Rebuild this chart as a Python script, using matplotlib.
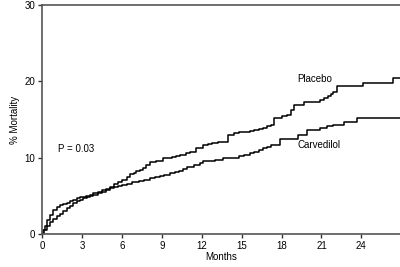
import matplotlib
matplotlib.use("Agg")

import matplotlib.pyplot as plt

# ------------------------------------------------------------
# DATA
# ------------------------------------------------------------
placebo_months = [0, 0.15, 0.35, 0.6, 0.85, 1.1, 1.35, 1.6, 1.86, 2.1, 2.36, 2.6,
                  2.86, 3.1, 3.4, 3.6, 3.86, 4.2, 4.5, 4.8, 5.1, 5.4, 5.7, 6.0,
                  6.37, 6.6, 6.9, 7.1, 7.37, 7.6, 7.8, 8.1, 8.6, 9.1, 9.4, 9.8,
                  10.1, 10.4, 10.8, 11.1, 11.6, 12.1, 12.5, 12.8, 13.2, 13.6, 14.0,
                  14.4, 14.8, 15.2, 15.6, 15.9, 16.3, 16.6, 16.9, 17.2, 17.4, 18.0,
                  18.4, 18.7, 18.9, 19.7, 20.9, 21.2, 21.5, 21.7, 21.9, 22.2, 24.1,
                  26.4, 27.0]
placebo_pct = [0, 0.5, 1.0, 1.5, 2.0, 2.3, 2.6, 3.0, 3.4, 3.7, 4.0, 4.3,
               4.5, 4.7, 4.9, 5.1, 5.3, 5.5, 5.7, 5.9, 6.2, 6.5, 6.8, 7.1,
               7.5, 7.8, 8.0, 8.2, 8.4, 8.7, 9.0, 9.4, 9.6, 9.9, 10.0, 10.1,
               10.2, 10.35, 10.6, 10.8, 11.2, 11.7, 11.8, 11.9, 12.0, 12.1, 13.0,
               13.2, 13.3, 13.4, 13.5, 13.6, 13.7, 13.9, 14.1, 14.3, 15.2, 15.4,
               15.6, 16.3, 16.9, 17.3, 17.6, 17.8, 18.1, 18.4, 18.65, 19.4, 19.75,
               20.4, 20.4]

carvedilol_months = [0, 0.1, 0.2, 0.35, 0.6, 0.85, 1.1, 1.35, 1.6, 1.9, 2.1, 2.36,
                     2.6, 2.86, 3.3, 3.86, 4.2, 4.5, 4.8, 5.1, 5.4, 5.7, 6.0, 6.4,
                     6.8, 7.3, 7.7, 8.1, 8.5, 8.9, 9.2, 9.6, 10.0, 10.3, 10.6, 10.9,
                     11.4, 11.9, 12.1, 12.5, 13.0, 13.6, 14.4, 14.8, 15.2, 15.6, 15.9,
                     16.3, 16.6, 16.9, 17.2, 17.9, 19.2, 19.9, 20.9, 21.4, 21.9, 22.7,
                     23.7, 27.0]
carvedilol_pct = [0, 0.5, 1.0, 1.8, 2.5, 3.1, 3.5, 3.8, 3.95, 4.1, 4.3, 4.46,
                  4.7, 4.9, 5.0, 5.1, 5.3, 5.5, 5.8, 6.0, 6.15, 6.3, 6.45, 6.6,
                  6.75, 6.95, 7.1, 7.3, 7.45, 7.6, 7.75, 7.95, 8.1, 8.3, 8.5, 8.8,
                  9.0, 9.3, 9.5, 9.6, 9.7, 9.9, 9.95, 10.2, 10.4, 10.6, 10.8,
                  11.0, 11.2, 11.4, 11.7, 12.5, 13.0, 13.6, 13.85, 14.1, 14.3, 14.7,
                  15.2, 15.2]

x_ticks = [0, 3, 6, 9, 12, 15, 18, 21, 24]
y_ticks = [0, 10, 20, 30]

# ------------------------------------------------------------
# PLOT
# ------------------------------------------------------------
plt.rcParams['font.family'] = ['Liberation Sans', 'DejaVu Sans']

fig = plt.figure(figsize=(4, 2.67), dpi=100)
ax = fig.add_axes([0.105, 0.124, 0.895, 0.857])

ax.plot(placebo_months, placebo_pct, drawstyle="steps-post", color="black", lw=1.1)
ax.plot(carvedilol_months, carvedilol_pct, drawstyle="steps-post", color="black", lw=1.1)

ax.set_xlim(0, 26.9)
ax.set_ylim(0, 30)
ax.set_xticks(x_ticks)
ax.set_yticks(y_ticks)
ax.tick_params(direction="out", length=3, width=1, labelsize=7, pad=2,
               color="#333333")

for side in ["left", "bottom", "top"]:
    ax.spines[side].set_color("#555555")
    ax.spines[side].set_linewidth(1.2)
ax.spines["right"].set_visible(False)

ax.set_xlabel("Months", fontsize=7, labelpad=1)
ax.set_ylabel("% Mortality", fontsize=7, labelpad=3)

ax.text(20.5, 20.3, "Placebo", fontsize=7, ha="center", va="center")
ax.text(20.8, 11.7, "Carvedilol", fontsize=7, ha="center", va="center")
ax.text(1.2, 11.1, "P = 0.03", fontsize=7, ha="left", va="center")

fig.savefig("out.png", dpi=100)
